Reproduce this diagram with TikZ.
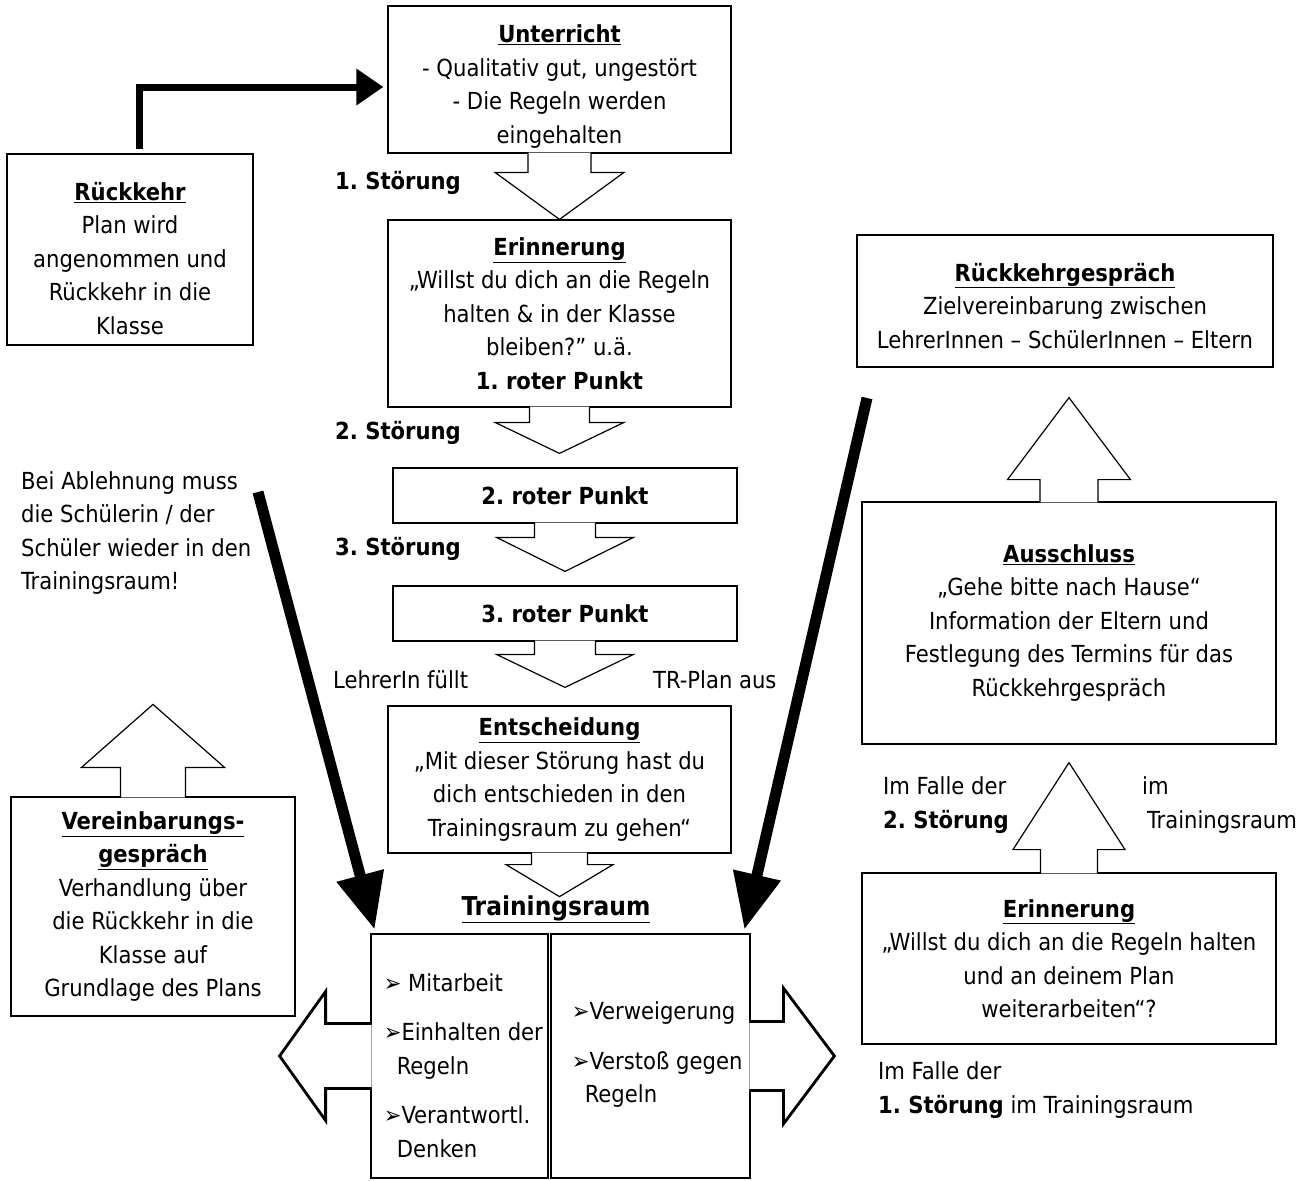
\documentclass[tikz,border=0pt]{standalone}
\usepackage{fontspec}
\setmainfont{DejaVu Sans Condensed}
\frenchspacing
\usetikzlibrary{arrows.meta,calc}

% hollow block arrow: [style]{start}{tip}{shaft half}{head half}{head length}
\newcommand\blockarr[6][]{%
\path (#2) coordinate (bs) (#3) coordinate (bt) ($(bt)!#6!(bs)$) coordinate (bh);
\fill[white] ($(bs)!#4!90:(bt)$) -- ($(bh)!#4!-90:(bs)$) -- ($(bh)!#5!-90:(bs)$) -- (bt)
 -- ($(bh)!#5!90:(bs)$) -- ($(bh)!#4!90:(bs)$) -- ($(bs)!#4!-90:(bt)$) -- cycle;
\draw[line width=1.2pt,#1] ($(bs)!#4!90:(bt)$) -- ($(bh)!#4!-90:(bs)$) -- ($(bh)!#5!-90:(bs)$) -- (bt)
 -- ($(bh)!#5!90:(bs)$) -- ($(bh)!#4!90:(bs)$) -- ($(bs)!#4!-90:(bt)$);
}

\begin{document}
\begin{tikzpicture}[x=1pt,y=-1pt,
every node/.style={font=\fontsize{23.5}{33.5}\selectfont},
box/.style={draw,line width=1.2pt,align=center,inner sep=0pt},
lower/.style={text depth=6pt,text height=#1},
lbl/.style={anchor=west,inner sep=0pt,align=left},
trbox/.style={draw,line width=2.8pt,inner sep=0pt},
bigarr/.style={line width=11pt,-{Triangle[width=46pt,length=56pt]}},
toparr/.style={line width=7pt,line join=miter,-{Triangle[width=35pt,length=27pt]}}]
\useasboundingbox (0,0) rectangle (1307,1181);

\node[box,lower=133pt,minimum width=343pt,minimum height=147pt] (unterricht) at (559.5,79.5)
{\underline{\textbf{Unterricht}}\\- Qualitativ gut, ungestört\\- Die Regeln werden\\eingehalten};
\node[box,minimum width=343pt,minimum height=187pt] (erinn) at (559.5,313.5)
{\underline{\textbf{Erinnerung}}\\„Willst du dich an die Regeln\\halten \& in der Klasse\\bleiben?" u.ä.\\\textbf{1. roter Punkt}};
\node[box,minimum width=344pt,minimum height=55pt] (rot2) at (565,495.5) {\textbf{2. roter Punkt}};
\node[box,minimum width=344pt,minimum height=55pt] (rot3) at (565,613.5) {\textbf{3. roter Punkt}};
\node[box,minimum width=343pt,minimum height=147pt] (entsch) at (559.5,779.5)
{\underline{\textbf{Entscheidung}}\\„Mit dieser Störung hast du\\dich entschieden in den\\Trainingsraum zu gehen“};
\node[box,lower=175pt,minimum width=246pt,minimum height=191pt] (rueck) at (130,249.5)
{\underline{\textbf{Rückkehr}}\\Plan wird\\angenommen und\\Rückkehr in die\\Klasse};
\node[box,minimum width=284pt,minimum height=219pt] (vereinb) at (153,906.5)
{\underline{\textbf{Vereinbarungs-}}\\\underline{\textbf{gespräch}}\\Verhandlung über\\die Rückkehr in die\\Klasse auf\\Grundlage des Plans};
\node[box,lower=100pt,minimum width=416pt,minimum height=132pt] (rkgespr) at (1065,301)
{\underline{\textbf{Rückkehrgespräch}}\\Zielvereinbarung zwischen\\LehrerInnen – SchülerInnen – Eltern};
\node[box,minimum width=414pt,minimum height=242pt] (ausschl) at (1069,623)
{\underline{\textbf{Ausschluss}}\\„Gehe bitte nach Hause“\\Information der Eltern und\\Festlegung des Termins für das\\Rückkehrgespräch};
\node[box,minimum width=414pt,minimum height=171pt] (erinn2) at (1069,958.5)
{\underline{\textbf{Erinnerung}}\\„Willst du dich an die Regeln halten\\und an deinem Plan\\weiterarbeiten“?};

\node[trbox,minimum width=177pt,minimum height=244pt] (pos) at (459.5,1056) {};
\node[trbox,minimum width=199pt,minimum height=244pt] (neg) at (650.5,1056) {};
\node[lbl] (postext) at ([xshift=14pt,yshift=-9.5pt]pos.west)
{➢ Mitarbeit\\[16pt]➢Einhalten der\\\hspace*{13pt}Regeln\\[16pt]➢Verantwortl.\\\hspace*{13pt}Denken};
\node[lbl] (negtext) at ([xshift=22pt,yshift=1pt]neg.west)
{➢Verweigerung\\[16pt]➢Verstoß gegen\\\hspace*{13pt}Regeln};
\node[font=\fontsize{26}{30}\selectfont\bfseries] (trtitel) at (556,909) {\underline{Trainingsraum}};

\node[lbl] (st1) at (335,183) {\textbf{1. Störung}};
\node[lbl] (st2) at (335,433) {\textbf{2. Störung}};
\node[lbl] (st3) at (335,549) {\textbf{3. Störung}};
\node[lbl] (fuellt) at (333,680) {LehrerIn füllt};
\node[lbl] (trplan) at (653,680) {TR-Plan aus};
\node[lbl] (ablehn) at (21,533) {Bei Ablehnung muss\\die Schülerin / der\\Schüler wieder in den\\Trainingsraum!};
\node[lbl] (fall2) at (883,805) {Im Falle der\\\textbf{2. Störung}};
\node[lbl] (fall2b) at (1142,805) {im\\\hspace*{5pt}Trainingsraum};
\node[lbl] (fall1) at (878,1090) {Im Falle der\\\textbf{1. Störung} im Trainingsraum};

\blockarr{[yshift=1pt]unterricht.south}{erinn.north}{31.5pt}{64.5pt}{47pt}
\blockarr{[yshift=1pt]erinn.south}{[xshift=-5.5pt,yshift=14pt]rot2.north}{30pt}{64.5pt}{31pt}
\blockarr{[yshift=1pt]rot2.south}{[yshift=14pt]rot3.north}{30.5pt}{68.5pt}{34pt}
\blockarr{[yshift=1pt]rot3.south}{[xshift=5.5pt,yshift=18pt]entsch.north}{30.5pt}{68.5pt}{33pt}
\blockarr{[yshift=1pt]entsch.south}{[yshift=-43pt]entsch.south}{28pt}{53.5pt}{32pt}
\blockarr{[yshift=-1pt]ausschl.north}{[xshift=4pt,yshift=-30pt]rkgespr.south}{29pt}{61.5pt}{82pt}
\blockarr{[yshift=-1pt]erinn2.north}{[yshift=-18pt]ausschl.south}{28.5pt}{56pt}{87pt}
\blockarr{[yshift=-1pt]vereinb.north}{[yshift=92pt]vereinb.north}{32.5pt}{71.5pt}{63pt}
\blockarr[line width=2.8pt,line join=miter]{[xshift=2pt]pos.west}{[xshift=-90pt]pos.west}{32.5pt}{64.5pt}{46pt}
\blockarr[line width=2.8pt,line join=miter]{[xshift=-2pt]neg.east}{[xshift=83pt]neg.east}{34.5pt}{68pt}{51pt}

\coordinate (abl) at (258,492);
\coordinate (rkg) at (867,398);
\draw[bigarr] (abl) -- ([xshift=5pt,yshift=3pt]pos.north west);
\draw[bigarr] (rkg) -- ([xshift=-7pt,yshift=3pt]neg.north east);
\draw[toparr] ([xshift=9pt,yshift=4pt]rueck.north) |- ([xshift=-4pt,yshift=-7.5pt]unterricht.west);
\end{tikzpicture}
\end{document}
